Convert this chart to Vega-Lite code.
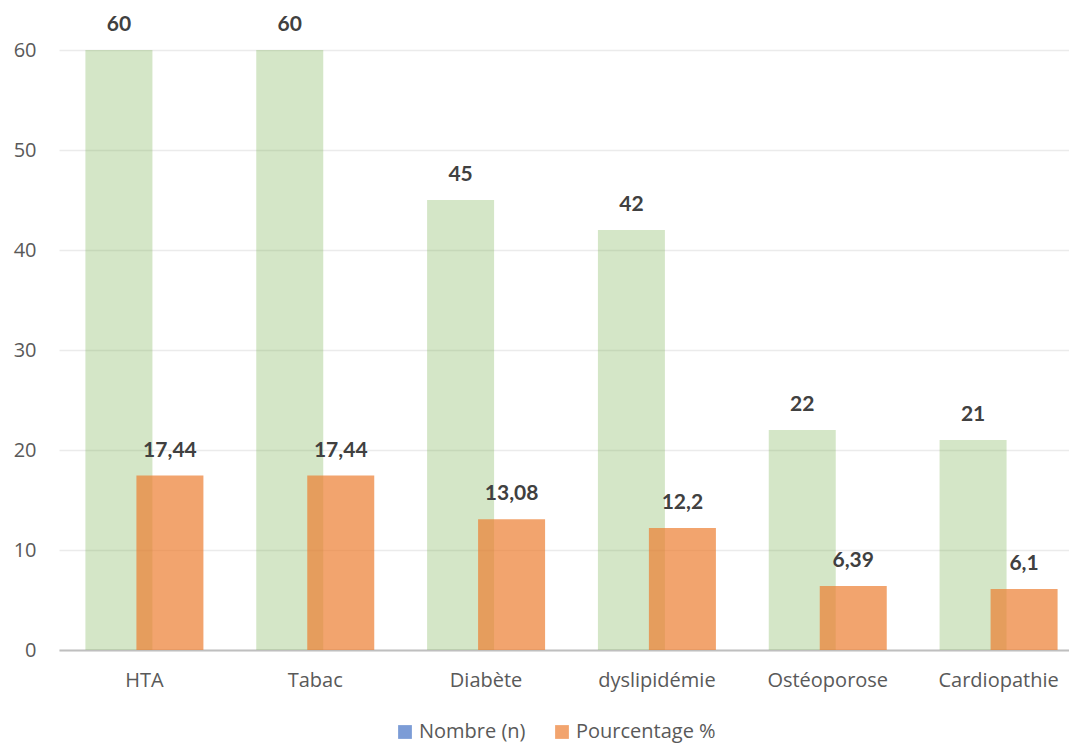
{
  "$schema": "https://vega.github.io/schema/vega-lite/v6.json",
  "autosize": {"type": "none"},
  "padding": {"left": 59, "top": 50, "right": 0, "bottom": 96},
  "width": 1010,
  "height": 600,
  "config": {
    "view": {"stroke": null},
    "locale": {"number": {"decimal": ",", "thousands": " ", "grouping": [3], "currency": ["", " €"]}},
    "font": "Open Sans"
  },
  "data": {
    "values": [
      {"cat": "HTA", "serie": "Nombre (n)", "valeur": 60},
      {"cat": "Tabac", "serie": "Nombre (n)", "valeur": 60},
      {"cat": "Diabète", "serie": "Nombre (n)", "valeur": 45},
      {"cat": "dyslipidémie", "serie": "Nombre (n)", "valeur": 42},
      {"cat": "Ostéoporose", "serie": "Nombre (n)", "valeur": 22},
      {"cat": "Cardiopathie", "serie": "Nombre (n)", "valeur": 21},
      {"cat": "HTA", "serie": "Pourcentage %", "valeur": 17.44},
      {"cat": "Tabac", "serie": "Pourcentage %", "valeur": 17.44},
      {"cat": "Diabète", "serie": "Pourcentage %", "valeur": 13.08},
      {"cat": "dyslipidémie", "serie": "Pourcentage %", "valeur": 12.2},
      {"cat": "Ostéoporose", "serie": "Pourcentage %", "valeur": 6.39},
      {"cat": "Cardiopathie", "serie": "Pourcentage %", "valeur": 6.1}
    ]
  },
  "encoding": {
    "x": {
      "field": "cat",
      "type": "nominal",
      "sort": null,
      "scale": {"range": [0, 1025], "paddingInner": 0, "paddingOuter": 0},
      "axis": {
        "title": null,
        "labelAngle": 0,
        "labelFont": "Open Sans",
        "labelFontSize": 20,
        "labelColor": "#595959",
        "labelPadding": 20,
        "ticks": false,
        "domainColor": "#bfbfbf",
        "domainWidth": 2,
        "grid": false
      }
    },
    "y": {
      "field": "valeur",
      "type": "quantitative",
      "scale": {"domain": [0, 60], "nice": false},
      "axis": {
        "title": null,
        "values": [0, 10, 20, 30, 40, 50, 60],
        "labelFont": "Open Sans",
        "labelFontSize": 20,
        "labelColor": "#595959",
        "labelPadding": 23,
        "ticks": false,
        "domain": false,
        "gridColor": "#ebebeb",
        "gridWidth": 1.5
      }
    }
  },
  "layer": [
    {
      "transform": [{"filter": "datum.serie === 'Nombre (n)'"}],
      "mark": {"type": "bar", "width": 67, "xOffset": -25.5, "color": "#70AD47", "opacity": 0.3}
    },
    {
      "transform": [{"filter": "datum.serie === 'Pourcentage %'"}],
      "mark": {"type": "bar", "width": 67, "xOffset": 25.5, "opacity": 0.7},
      "encoding": {
        "color": {
          "field": "serie",
          "type": "nominal",
          "scale": {"domain": ["Nombre (n)", "Pourcentage %"], "range": ["#4472C4", "#ED7D31"]},
          "legend": {
            "title": null,
            "orient": "none",
            "legendX": 336,
            "legendY": 672,
            "direction": "horizontal",
            "symbolType": "square",
            "symbolSize": 190,
            "symbolOpacity": 0.7,
            "symbolStrokeWidth": 0,
            "labelFont": "Open Sans",
            "labelFontSize": 20,
            "labelColor": "#595959",
            "labelOffset": 4,
            "columnPadding": 26
          }
        }
      }
    },
    {
      "transform": [{"filter": "datum.serie === 'Nombre (n)'"}],
      "mark": {"type": "text", "xOffset": -25.5, "dy": -25, "baseline": "middle", "font": "Lato", "fontWeight": "bold", "fontSize": 21, "color": "#404040"},
      "encoding": {"text": {"field": "valeur", "type": "quantitative", "format": "~g"}}
    },
    {
      "transform": [{"filter": "datum.serie === 'Pourcentage %'"}],
      "mark": {"type": "text", "xOffset": 25.5, "dy": -25, "baseline": "middle", "font": "Lato", "fontWeight": "bold", "fontSize": 21, "color": "#404040"},
      "encoding": {"text": {"field": "valeur", "type": "quantitative", "format": "~g"}}
    }
  ]
}
